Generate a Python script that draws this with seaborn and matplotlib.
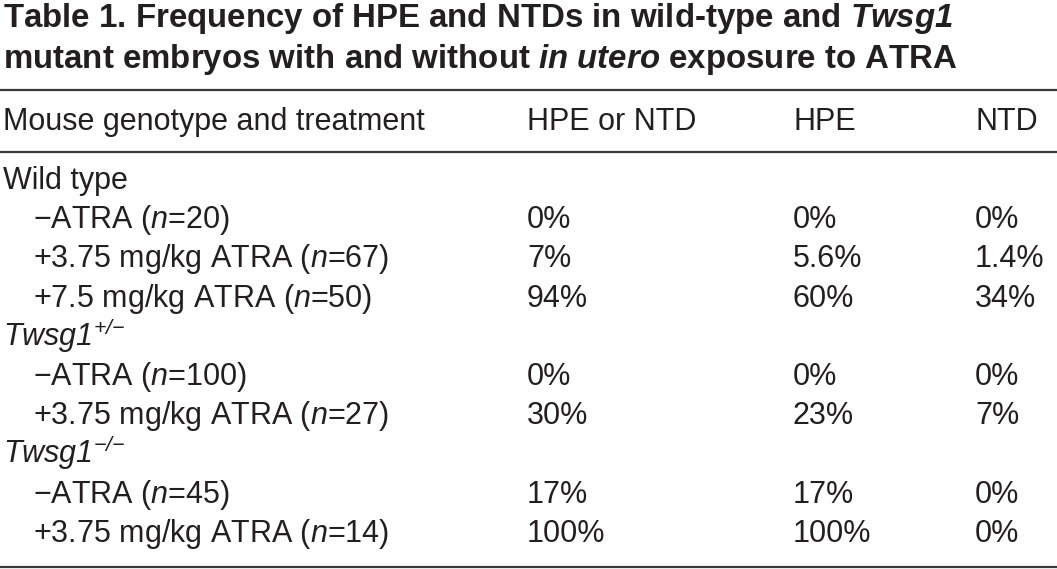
import matplotlib
matplotlib.use('Agg')
import matplotlib.pyplot as plt
import seaborn as sns
from matplotlib import font_manager

# table content
title_lines = [
    r'Table 1. Frequency of HPE and NTDs in wild-type and $\mathbfit{Twsg1}$',
    r'mutant embryos with and without $\mathbfit{in\ utero}$ exposure to ATRA',
]
columns = ['Mouse genotype and treatment', 'HPE or NTD', 'HPE', 'NTD']

genotypes = ['Wild type', 'Twsg1', 'Twsg1']
genotype_sup = ['', '{+}/{-}', '{-}/{-}']
treatments = [
    ['\u2212ATRA', '+3.75 mg/kg ATRA', '+7.5 mg/kg ATRA'],
    ['\u2212ATRA', '+3.75 mg/kg ATRA'],
    ['\u2212ATRA', '+3.75 mg/kg ATRA'],
]
n_embryos = [[20, 67, 50], [100, 27], [45, 14]]
hpe_or_ntd = [[0, 7, 94], [0, 30], [17, 100]]
hpe = [[0, 5.6, 60], [0, 23], [17, 100]]
ntd = [[0, 1.4, 34], [0, 7], [0, 0]]

sns.set_theme(style='white')
installed = {f.name for f in font_manager.fontManager.ttflist}
title_font = 'Liberation Sans Narrow' if 'Liberation Sans Narrow' in installed else 'Liberation Sans'
plt.rcParams['font.family'] = ['Liberation Sans', 'DejaVu Sans']
plt.rcParams['mathtext.fontset'] = 'custom'
# math is only used for the italic bits, so digits and signs go italic too
plt.rcParams['mathtext.rm'] = 'Liberation Sans:italic'
plt.rcParams['mathtext.it'] = 'Liberation Sans:italic'
plt.rcParams['mathtext.bf'] = title_font + ':bold'
plt.rcParams['mathtext.bfit'] = title_font + ':bold:italic'

W, H = 1057, 569
fig = plt.figure(figsize=(W / 100, H / 100), dpi=100)
ax = fig.add_axes([0, 0, 1, 1])
ax.set_xlim(0, W)
ax.set_ylim(H, 0)
ax.axis('off')

ink = '#231f20'
body_size = 22
title_size = 23.8

for i, line in enumerate(title_lines):
    ax.text(3, 27 + 41 * i, line, fontsize=title_size, fontweight='bold',
            family=title_font, color=ink, va='baseline', ha='left')

# rules
rule_kw = dict(color='#3a3a3a', lw=1.6)
ax.axhline(90, **rule_kw)
ax.axhline(152, **rule_kw)
ax.axhline(567, **rule_kw)

col_x = [3, 527, 793, 975]
for x, name in zip(col_x, columns):
    ax.text(x, 130, name, fontsize=body_size, color=ink, va='baseline')

row_y0, row_h = 189, 39.2
row = 0
for g, geno in enumerate(genotypes):
    if genotype_sup[g]:
        label = r'$\mathit{%s}^{%s}$' % (geno, genotype_sup[g])
    else:
        label = geno
    ax.text(3, row_y0 + row * row_h, label, fontsize=body_size, color=ink, va='baseline')
    row += 1
    for t, treat in enumerate(treatments[g]):
        y = row_y0 + row * row_h
        ax.text(33, y, r'%s ($\mathit{n}$=%d)' % (treat, n_embryos[g][t]),
                fontsize=body_size, color=ink, va='baseline')
        for x, vals in zip(col_x[1:], [hpe_or_ntd, hpe, ntd]):
            ax.text(x, y, '{:g}%'.format(vals[g][t]), fontsize=body_size,
                    color=ink, va='baseline')
        row += 1

fig.savefig('out.png', dpi=100, facecolor='white')
